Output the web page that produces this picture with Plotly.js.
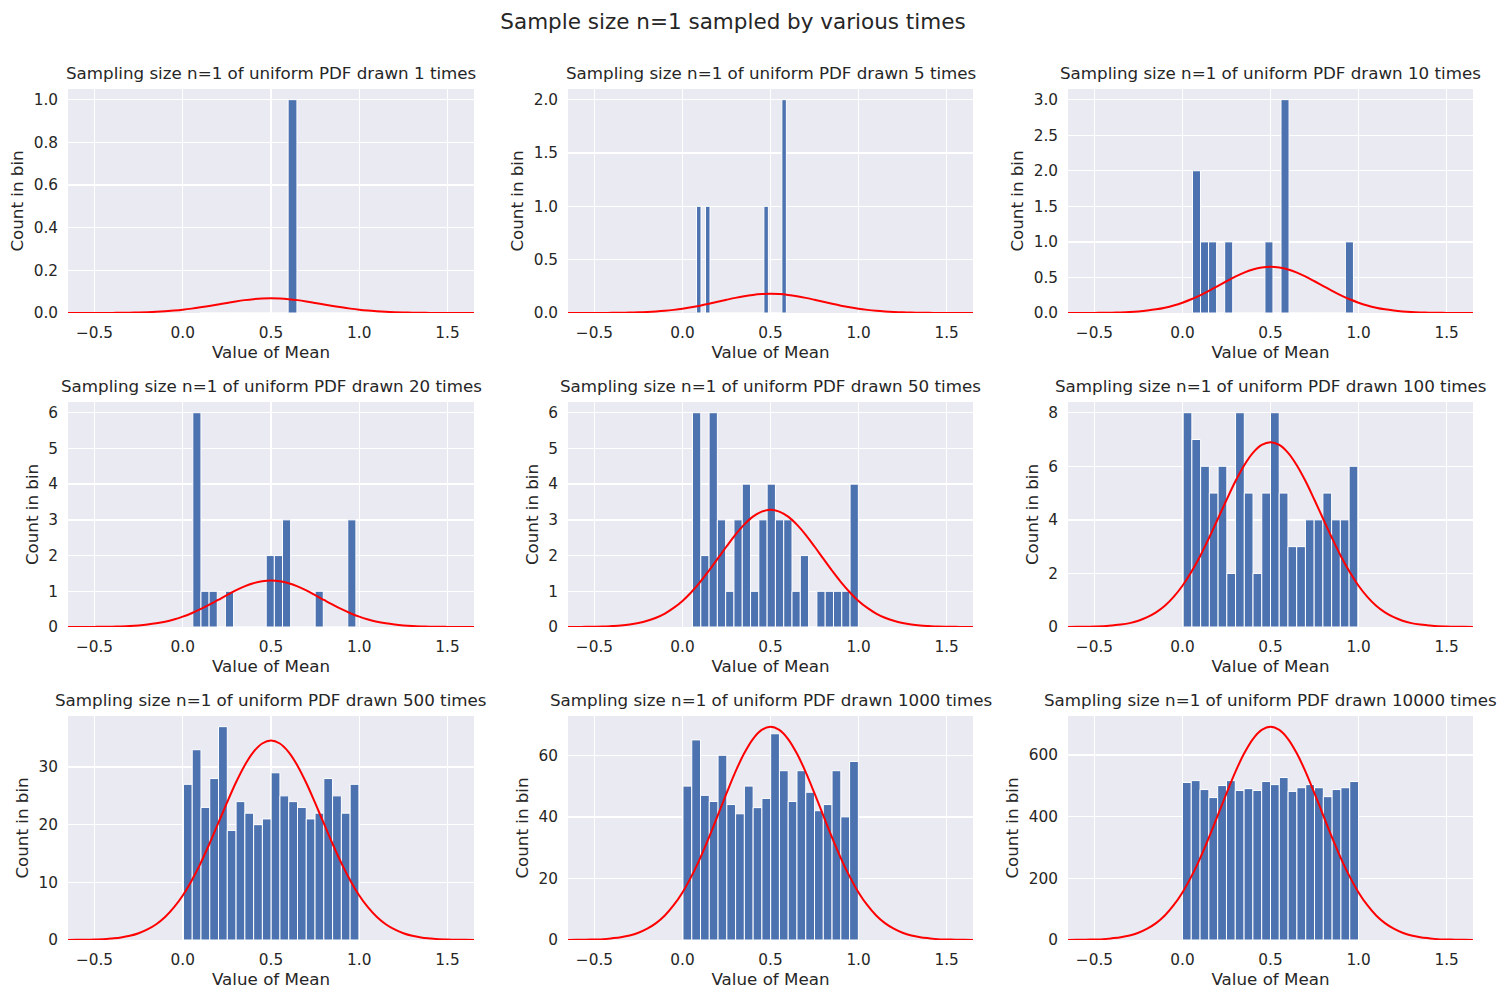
<!DOCTYPE html>
<html>
<head>
<meta charset="utf-8">
<script src="https://cdn.plot.ly/plotly-3.0.1.min.js"></script>
<style>html,body{margin:0;padding:0;background:#fff;}#chart{width:1506px;height:1000px;}</style>
</head>
<body>
<div id="chart"></div>
<script>
// ---- data ----
const drawnTimes = [1, 5, 10, 20, 50, 100, 500, 1000, 10000];
const binStarts = [0.097, 0.08, 0.057, 0.057, 0.057, 0.004, 0.004, 0.003, 0.0];
const binWidths = [0.05, 0.0255, 0.0457, 0.0462, 0.0471, 0.0496, 0.0497, 0.0498, 0.05];

const counts1 = [0,0,0,0,0,0,0,0,0,0,1,0,0,0,0,0,0,0,0,0];
const counts5 = [1,0,1,0,0,0,0,0,0,0,0,0,0,0,0,1,0,0,0,2];
const counts10 = [2,1,1,0,1,0,0,0,0,1,0,3,0,0,0,0,0,0,0,1];
const counts20 = [6,1,1,0,1,0,0,0,0,2,2,3,0,0,0,1,0,0,0,3];
const counts50 = [6,2,6,3,1,3,4,1,3,4,3,3,1,2,0,1,1,1,1,4];
const counts100 = [8,7,6,5,6,2,8,5,2,5,8,5,3,3,4,4,5,4,4,6];
const counts500 = [27,33,23,28,37,19,24,22,20,21,29,25,24,23,21,22,28,25,22,27];
const counts1000 = [50,65,47,45,60,44,41,50,43,46,67,55,45,55,48,42,44,55,40,58];
const counts10000 = [511,517,488,462,501,517,485,491,485,514,504,527,482,494,504,494,465,488,494,514];
const allCounts = [counts1, counts5, counts10, counts20, counts50, counts100, counts500, counts1000, counts10000];

// normal-curve peak heights read per panel
const curvePeaks = [0.069, 0.18, 0.65, 1.3, 3.28, 6.9, 34.6, 69.3, 692];
// curve sample positions and relative shape
const curveX = [-0.65,-0.6,-0.55,-0.5,-0.45,-0.4,-0.35,-0.3,-0.25,-0.2,-0.15,-0.1,-0.05,0,0.05,0.1,0.15,0.2,0.25,0.3,0.35,0.4,0.45,0.5,0.55,0.6,0.65,0.7,0.75,0.8,0.85,0.9,0.95,1.0,1.05,1.1,1.15,1.2,1.25,1.3,1.35,1.4,1.45,1.5,1.55,1.6,1.65];
const curveShape = [0.0004,0.0007,0.0013,0.0025,0.004,0.008,0.013,0.021,0.034,0.053,0.079,0.115,0.163,0.223,0.297,0.383,0.480,0.583,0.687,0.787,0.874,0.942,0.985,1,0.985,0.942,0.874,0.787,0.687,0.583,0.480,0.383,0.297,0.223,0.163,0.115,0.079,0.053,0.034,0.021,0.013,0.008,0.004,0.0025,0.0013,0.0007,0.0004];

const yTickVals = [
  [0,0.2,0.4,0.6,0.8,1.0],
  [0,0.5,1.0,1.5,2.0],
  [0,0.5,1.0,1.5,2.0,2.5,3.0],
  [0,1,2,3,4,5,6],
  [0,1,2,3,4,5,6],
  [0,2,4,6,8],
  [0,10,20,30],
  [0,20,40,60],
  [0,200,400,600]
];
const yTickFormats = ['.1f','.1f','.1f','d','d','d','d','d','d'];
const xTickVals = [-0.5, 0.0, 0.5, 1.0, 1.5];
const xTickText = ['\u22120.5', '0.0', '0.5', '1.0', '1.5'];

const mainTitle = 'Sample size n=1 sampled by various times';
const xLabel = 'Value of Mean';
const yLabel = 'Count in bin';

// ---- build figure ----
const W = 1506, H = 1000;
const colPx = [[68,474],[568,973],[1068,1473]];
const rowPx = [[89,313],[402,627],[716,940]];
const textColor = '#262626';
const font = 'DejaVu Sans, sans-serif';

const traces = [];
const layout = {
  width: W, height: H,
  margin: {l:0, r:0, t:0, b:0},
  paper_bgcolor: '#ffffff',
  plot_bgcolor: '#EAEAF2',
  showlegend: false,
  font: {family: font, color: textColor, size: 15.3},
  bargap: 0,
  annotations: [],
  title: {text: mainTitle, x: 733 / W, xanchor: 'center', y: 1 - 21/H, yanchor: 'middle', yref: 'paper',
          font: {family: font, size: 21.5, color: textColor}}
};

drawnTimes.forEach((n, i) => {
  const r = Math.floor(i / 3), c = i % 3;
  const suf = i === 0 ? '' : String(i + 1);
  const xa = 'x' + suf, ya = 'y' + suf;
  const counts = allCounts[i];
  const xs = counts.map((_, k) => binStarts[i] + (k + 0.5) * binWidths[i]);
  traces.push({
    type: 'bar', x: xs, y: counts, xaxis: xa, yaxis: ya,
    width: binWidths[i],
    marker: {color: '#4C72B0', line: {color: '#ffffff', width: 1}},
    hoverinfo: 'skip'
  });
  traces.push({
    type: 'scatter', mode: 'lines', x: curveX, y: curveShape.map(s => s * curvePeaks[i]),
    xaxis: xa, yaxis: ya, line: {color: '#FF0000', width: 2, shape: 'spline'},
    cliponaxis: true, hoverinfo: 'skip'
  });
  const ymax = Math.max(Math.max(...counts), curvePeaks[i]) * 1.05;
  const dom = [colPx[c][0] / W, colPx[c][1] / W];
  const ydom = [1 - rowPx[r][1] / H, 1 - rowPx[r][0] / H];
  layout['xaxis' + suf] = {
    domain: dom, anchor: ya, range: [-0.65, 1.65],
    tickvals: xTickVals, ticktext: xTickText, ticks: '', showline: false,
    ticklabelstandoff: 9,
    gridcolor: '#ffffff', gridwidth: 1.3, zeroline: false,
    tickfont: {size: 15.3, color: textColor, family: font},
    title: {text: xLabel, font: {size: 16.7, color: textColor, family: font}, standoff: 5}
  };
  layout['yaxis' + suf] = {
    domain: ydom, anchor: xa, range: [0, ymax],
    tickvals: yTickVals[i], tickformat: yTickFormats[i], ticks: '', showline: false,
    ticklabelstandoff: 9,
    gridcolor: '#ffffff', gridwidth: 1.3, zeroline: false,
    tickfont: {size: 15.3, color: textColor, family: font},
    title: {text: yLabel, font: {size: 16.7, color: textColor, family: font}, standoff: 5}
  };
  layout.annotations.push({
    text: 'Sampling size n=1 of uniform PDF drawn ' + n + ' times',
    xref: 'paper', yref: 'paper', x: (dom[0] + dom[1]) / 2, y: ydom[1],
    xanchor: 'center', yanchor: 'bottom', yshift: 4, showarrow: false,
    font: {size: 16.7, color: textColor, family: font}
  });
});

Plotly.newPlot('chart', traces, layout, {displayModeBar: false, staticPlot: true});
</script>
</body>
</html>
